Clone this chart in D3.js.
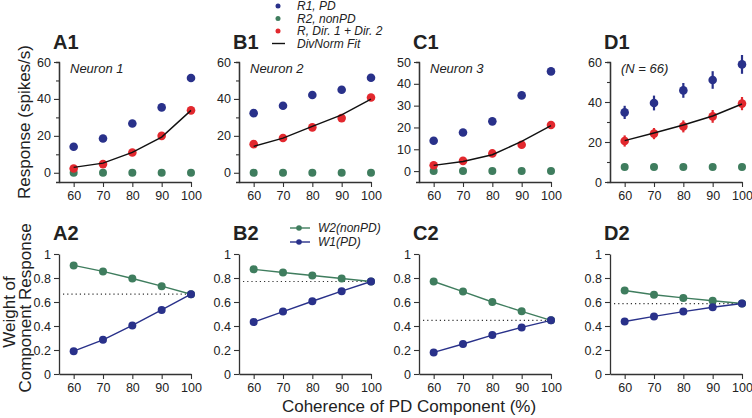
<!DOCTYPE html>
<html>
<head>
<meta charset="utf-8">
<script src="https://cdn.jsdelivr.net/npm/d3@7"></script>
<style>
  body { margin: 0; background: #fff; }
  svg { font-family: "Liberation Sans", Arial, sans-serif; }
</style>
</head>
<body>
<div id="chart"></div>
<script>
// coherence of PD component (%)
const coherence = [60, 70, 80, 90, 100];

// top row: responses (spikes/s)
const r1A = [14.1, 18.6, 26.7, 35.4, 51.3];
const r2A = [0, 0, 0, 0, 0];
const rSumA = [2.3, 4.7, 11, 20, 33.8];
const fitA = [2.9, 5.2, 11, 19.3, 33.8];

const r1B = [32.3, 36.3, 42.1, 45, 51.5];
const r2B = [0, 0, 0, 0, 0];
const rSumB = [15.5, 18.8, 24.6, 29.6, 40.8];
const fitB = [14.3, 18.8, 25.1, 31.4, 39.9];

const r1C = [13.9, 17.7, 22.8, 34.7, 45.7];
const r2C = [0, 0, 0, 0, 0];
const rSumC = [2.7, 4.7, 8.1, 12.1, 21.1];
const fitC = [2.6, 4.4, 7.5, 13.6, 20.8];

const r1D = [34.8, 39.5, 45.8, 51, 58.8];
const r1DErr = [3.3, 3.7, 3.7, 4.4, 4.7];
const r2D = [7.5, 7.5, 7.5, 7.5, 7.5];
const r2DErr = [1.5, 1.5, 1.5, 1.5, 1.5];
const rSumD = [20.5, 24.2, 27.8, 32.8, 39.2];
const rSumDErr = [2.8, 2.8, 3, 3.2, 3.3];
const fitD = [20.7, 24.5, 28.5, 33, 39];

const smallErr = [1, 1, 1.2, 1.2, 1.6];

// bottom row: weights
const w2A = [0.905, 0.855, 0.796, 0.732, 0.665];
const w1A = [0.19, 0.285, 0.405, 0.534, 0.665];
const w2B = [0.872, 0.846, 0.821, 0.796, 0.771];
const w1B = [0.433, 0.52, 0.606, 0.69, 0.771];
const w2C = [0.771, 0.687, 0.6, 0.522, 0.447];
const w1C = [0.18, 0.25, 0.324, 0.388, 0.447];
const w2D = [0.696, 0.66, 0.634, 0.61, 0.587];
const w1D = [0.438, 0.48, 0.52, 0.556, 0.587];

const blue = "#29318a", green = "#3f7d5e", red = "#e2282e", ink = "#222";

const width = 752, height = 418;
const svg = d3.select("#chart").append("svg")
  .attr("width", width).attr("height", height);

const topPanels = [
  { id: "A1", x0: 59, ymin: -5, ymax: 60, major: 20, note: "Neuron 1", r1: r1A, r1e: smallErr, r2: r2A, r2e: r2A, rs: rSumA, rse: smallErr, fit: fitA },
  { id: "B1", x0: 239, ymin: -5, ymax: 60, major: 20, note: "Neuron 2", r1: r1B, r1e: smallErr, r2: r2B, r2e: r2B, rs: rSumB, rse: smallErr, fit: fitB },
  { id: "C1", x0: 419, ymin: -5, ymax: 50, major: 10, note: "Neuron 3", r1: r1C, r1e: smallErr, r2: r2C, r2e: r2C, rs: rSumC, rse: smallErr, fit: fitC },
  { id: "D1", x0: 610, ymin: 0, ymax: 60, major: 20, note: "(N = 66)", r1: r1D, r1e: r1DErr, r2: r2D, r2e: r2DErr, rs: rSumD, rse: rSumDErr, fit: fitD }
];
const bottomPanels = [
  { id: "A2", x0: 59, w1: w1A, w2: w2A },
  { id: "B2", x0: 239, w1: w1B, w2: w2B },
  { id: "C2", x0: 419, w1: w1C, w2: w2C },
  { id: "D2", x0: 610, w1: w1D, w2: w2D }
];

function styleAxis(g) {
  g.selectAll("path.domain").attr("stroke", "#333").attr("stroke-width", 1.3);
  g.selectAll(".tick line").attr("stroke", "#333").attr("stroke-width", 1.1);
  g.selectAll("text").attr("fill", ink).attr("font-size", "12.5px");
}

function drawXAxis(g, x, y0) {
  g.append("g")
    .attr("transform", `translate(0,${y0})`)
    .call(d3.axisBottom(x).tickValues(coherence).tickSize(5).tickPadding(4).tickSizeOuter(0))
    .call(styleAxis);
}

function pointsWithErr(g, x, y, vals, errs, color, r) {
  const data = coherence.map((c, i) => ({ c, v: vals[i], e: errs[i] }));
  g.append("g").selectAll("line").data(data).join("line")
    .attr("x1", d => x(d.c)).attr("x2", d => x(d.c))
    .attr("y1", d => y(d.v - d.e)).attr("y2", d => y(d.v + d.e))
    .attr("stroke", color).attr("stroke-width", 2.2);
  g.append("g").selectAll("circle").data(data).join("circle")
    .attr("cx", d => x(d.c)).attr("cy", d => y(d.v))
    .attr("r", r).attr("fill", color);
}

// top row
topPanels.forEach(p => {
  const x = d3.scaleLinear().domain([55, 100]).range([p.x0, p.x0 + 132]);
  const y = d3.scaleLinear().domain([p.ymin, p.ymax]).range([182, 62]);
  const g = svg.append("g");

  const minor = d3.range(0, p.ymax + 1, 10).filter(v => v % p.major !== 0);
  g.append("g").attr("transform", `translate(${p.x0},0)`)
    .call(d3.axisLeft(y).tickValues(minor).tickSize(3).tickFormat(""))
    .call(styleAxis);
  g.append("g").attr("transform", `translate(${p.x0},0)`)
    .call(d3.axisLeft(y).tickValues(d3.range(0, p.ymax + 1, p.major)).tickSize(5).tickPadding(3).tickSizeOuter(0))
    .call(styleAxis);
  drawXAxis(g, x, 182);

  g.append("text").attr("x", p.x0 - 6).attr("y", 49)
    .attr("font-size", "20px").attr("font-weight", "bold").attr("fill", ink).text(p.id);
  g.append("text").attr("x", p.x0 + 11).attr("y", 73)
    .attr("font-size", "13px").attr("font-style", "italic").attr("fill", ink).text(p.note);

  pointsWithErr(g, x, y, p.r2, p.r2e, green, 4);
  pointsWithErr(g, x, y, p.r1, p.r1e, blue, 4.3);
  pointsWithErr(g, x, y, p.rs, p.rse, red, 4.3);

  g.append("path")
    .attr("d", d3.line().x((d, i) => x(coherence[i])).y(d => y(d))(p.fit))
    .attr("fill", "none").attr("stroke", "#111").attr("stroke-width", 1.4);
});

// bottom row
bottomPanels.forEach(p => {
  const x = d3.scaleLinear().domain([55, 100]).range([p.x0, p.x0 + 132]);
  const y = d3.scaleLinear().domain([0, 1]).range([374, 254]);
  const g = svg.append("g");

  g.append("g").attr("transform", `translate(${p.x0},0)`)
    .call(d3.axisLeft(y).tickValues([0, 0.2, 0.4, 0.6, 0.8, 1]).tickFormat(d3.format("~g"))
      .tickSize(5).tickPadding(3).tickSizeOuter(0))
    .call(styleAxis);
  drawXAxis(g, x, 374);

  g.append("text").attr("x", p.x0 - 6).attr("y", 240)
    .attr("font-size", "20px").attr("font-weight", "bold").attr("fill", ink).text(p.id);

  const eq = p.w1[p.w1.length - 1];
  g.append("line")
    .attr("x1", p.x0 + 4).attr("x2", x(100))
    .attr("y1", y(eq)).attr("y2", y(eq))
    .attr("stroke", "#333").attr("stroke-width", 1.2).attr("stroke-dasharray", "1.2,3");

  [[p.w2, green], [p.w1, blue]].forEach(([vals, color]) => {
    g.append("path")
      .attr("d", d3.line().x((d, i) => x(coherence[i])).y(d => y(d))(vals))
      .attr("fill", "none").attr("stroke", color).attr("stroke-width", 1.4);
    g.append("g").selectAll("circle").data(vals).join("circle")
      .attr("cx", (d, i) => x(coherence[i])).attr("cy", d => y(d))
      .attr("r", 4).attr("fill", color);
  });
});

// top legend
const topLegend = [
  { label: "R1, PD", color: blue, y: 6 },
  { label: "R2, nonPD", color: green, y: 18.5 },
  { label: "R, Dir. 1 + Dir. 2", color: red, y: 31 },
  { label: "DivNorm Fit", color: "#111", y: 43.5, line: true }
];
const lg = svg.append("g");
topLegend.forEach(d => {
  if (d.line) {
    lg.append("line").attr("x1", 272).attr("x2", 285).attr("y1", d.y).attr("y2", d.y)
      .attr("stroke", d.color).attr("stroke-width", 1.4);
  } else {
    lg.append("circle").attr("cx", 278).attr("cy", d.y).attr("r", 2.5).attr("fill", d.color);
  }
  lg.append("text").attr("x", 297).attr("y", d.y + 4.2)
    .attr("font-size", "12px").attr("font-style", "italic").attr("fill", ink).text(d.label);
});

// bottom legend
const bottomLegend = [
  { label: "W2(nonPD)", color: green, y: 228 },
  { label: "W1(PD)", color: blue, y: 242 }
];
bottomLegend.forEach(d => {
  lg.append("line").attr("x1", 290).attr("x2", 310).attr("y1", d.y).attr("y2", d.y)
    .attr("stroke", d.color).attr("stroke-width", 1.4);
  lg.append("circle").attr("cx", 299).attr("cy", d.y).attr("r", 2.8).attr("fill", d.color);
  lg.append("text").attr("x", 318).attr("y", d.y + 4.3)
    .attr("font-size", "12px").attr("font-style", "italic").attr("fill", ink).text(d.label);
});

// axis titles
svg.append("text").attr("transform", "translate(30,122) rotate(-90)")
  .attr("text-anchor", "middle").attr("font-size", "17px").attr("fill", ink)
  .text("Response (spikes/s)");
svg.append("text").attr("transform", "translate(15,312) rotate(-90)")
  .attr("text-anchor", "middle").attr("font-size", "17px").attr("fill", ink)
  .text("Weight of");
svg.append("text").attr("transform", "translate(31,308) rotate(-90)")
  .attr("text-anchor", "middle").attr("font-size", "17px").attr("fill", ink)
  .text("Component Response");
svg.append("text").attr("x", 409).attr("y", 412)
  .attr("text-anchor", "middle").attr("font-size", "17px").attr("fill", ink)
  .text("Coherence of PD Component (%)");
</script>
</body>
</html>
